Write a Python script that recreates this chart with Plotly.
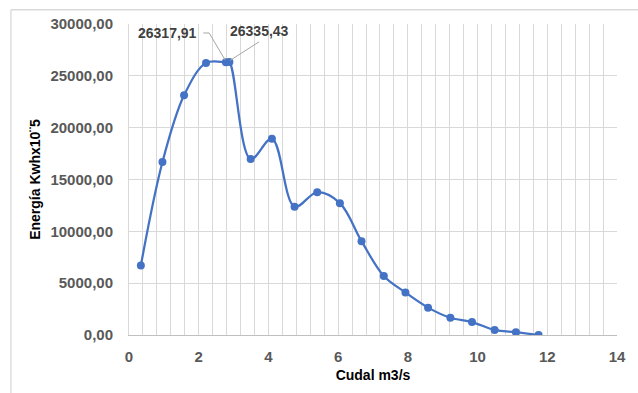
import plotly.graph_objects as go

# Caudal (m3/s) vs. energía
caudal = [0.34, 0.96, 1.58, 2.21, 2.78, 2.88, 3.49, 4.10, 4.75, 5.40,
          6.05, 6.67, 7.31, 7.93, 8.58, 9.22, 9.84, 10.49, 11.10, 11.75]
energia = [6700, 16680, 23120, 26250, 26317.91, 26335.43, 16970, 18930, 12380, 13770,
           12720, 9050, 5690, 4100, 2640, 1660, 1250, 490, 270, 0]

x_ticks = [0, 2, 4, 6, 8, 10, 12, 14]
y_ticks = [0, 5000, 10000, 15000, 20000, 25000, 30000]

# indices of the points that carry a value label
labelled = [4, 5]

BLUE = "#4472C4"
GRID = "#d9d9d9"
TICK_FONT = dict(family="Liberation Sans, Arial", size=15, color="#595959", weight="bold")
TITLE_FONT = dict(family="Liberation Sans, Arial", size=14, color="#000000", weight="bold")


def fmt(v):
    return f"{v:.2f}".replace(".", ",")


fig = go.Figure()
fig.add_trace(go.Scatter(
    x=caudal, y=energia, mode="lines+markers",
    line=dict(color=BLUE, width=2.25, shape="spline", smoothing=1),
    marker=dict(color=BLUE, size=8),
    hoverinfo="x+y", showlegend=False,
))

# value labels with leader lines
label_pos = [(1.1, 29150, "center"), (2.85, 29300, "left")]
leaders = [
    [(2.13, 29135), (2.30, 29135), (caudal[labelled[0]] - 0.02, energia[labelled[0]] + 200)],
    [(3.73, 28280), (caudal[labelled[1]] + 0.02, energia[labelled[1]] + 150)],
]
for idx, (lx, ly, anchor), pts in zip(labelled, label_pos, leaders):
    fig.add_annotation(
        x=lx, y=ly, xref="x", yref="y", text=fmt(energia[idx]), showarrow=False,
        xanchor=anchor, yanchor="middle",
        font=dict(family="Liberation Sans, Arial", size=14, color="#404040", weight="bold"),
    )
    path = "M " + " L ".join(f"{px},{py}" for px, py in pts)
    fig.add_shape(type="path", path=path, xref="x", yref="y",
                  line=dict(color="#a6a6a6", width=1), layer="above")

# outer chart frame (top and left edges)
fig.add_shape(type="line", xref="paper", yref="paper",
              x0=-0.2419, x1=1.05, y0=1.0459, y1=1.0459,
              line=dict(color=GRID, width=1.3))
fig.add_shape(type="line", xref="paper", yref="paper",
              x0=-0.2419, x1=-0.2419, y0=1.0459, y1=-0.2,
              line=dict(color=GRID, width=1.3))

fig.update_layout(
    width=638, height=393, autosize=False,
    margin=dict(l=129, r=17, t=24, b=53),
    paper_bgcolor="white", plot_bgcolor="white",
    separators=",.",
)
fig.update_xaxes(
    range=[0, 14], tickvals=x_ticks, ticktext=[str(t) for t in x_ticks],
    showgrid=True, gridcolor=GRID, gridwidth=1,
    minor=dict(dtick=0.4, tick0=0, showgrid=True, gridcolor=GRID, gridwidth=1),
    showline=True, linecolor="#bfbfbf", linewidth=1.3,
    zeroline=False, ticks="", ticklabelstandoff=8,
    tickfont=TICK_FONT,
    title=dict(text="Cudal m3/s", font=TITLE_FONT, standoff=6),
)
fig.update_yaxes(
    range=[0, 30000], tickvals=y_ticks, tickformat=".2f",
    showgrid=True, gridcolor=GRID, gridwidth=1,
    showline=True, linecolor=GRID, linewidth=1,
    zeroline=False, ticks="", ticklabelstandoff=12,
    tickfont=TICK_FONT,
    title=dict(text="Energía Kwhx10¨5", font=TITLE_FONT, standoff=6),
)

fig.write_html("out.html")
